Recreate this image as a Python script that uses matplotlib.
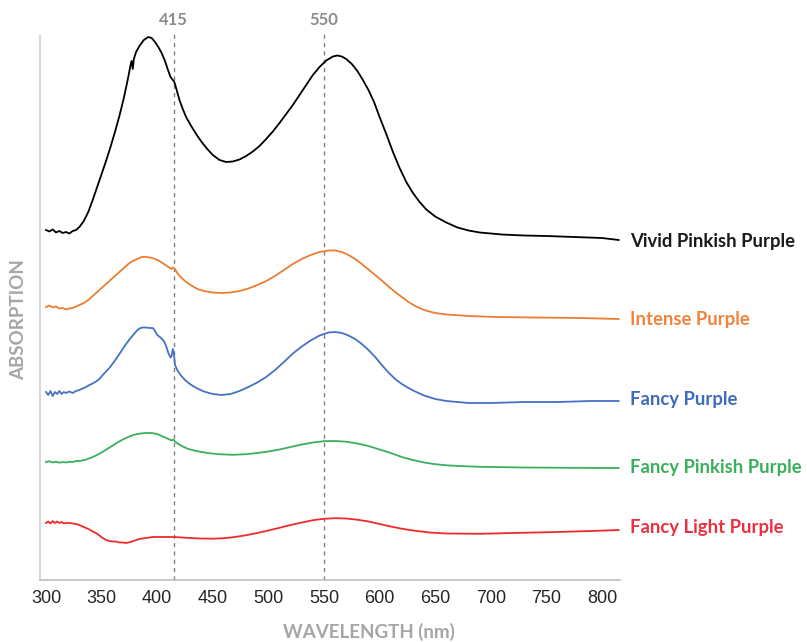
import matplotlib
matplotlib.use("Agg")
import matplotlib.pyplot as plt

# ---------------- data ----------------
wl_vivid = [300, 303, 306, 309, 312, 315, 318, 321, 324, 327, 330, 334, 338, 342, 346, 350, 354, 358,
            362, 366, 370, 374, 376, 377, 378, 379, 381, 384, 388, 392, 395, 398, 401, 404, 407, 410,
            412, 414, 415, 416, 418, 420, 423, 426, 430, 435, 440, 445, 450, 456, 462, 468, 474, 480,
            486, 492, 498, 504, 510, 516, 522, 528, 534, 540, 546, 552, 558, 562, 566, 570, 575, 580,
            585, 590, 595, 600, 606, 612, 618, 624, 630, 636, 642, 650, 660, 670, 680, 690, 710, 730,
            750, 775, 800, 815]
ab_vivid = [350, 348.5, 350.5, 347.5, 349, 347, 348, 346.5, 349, 350, 353, 359, 368, 380, 393, 406, 419, 433,
            448, 464, 482, 503, 515, 519, 511, 521, 528, 534, 540, 543, 542, 538, 533, 527, 519, 509,
            503, 500, 499, 496, 488, 480, 471, 463, 455, 446, 438, 431, 425, 420, 418, 418.5, 420.5, 424,
            428.5, 434, 441, 448.5, 457, 466, 475, 485, 495, 505, 513, 519.5, 523.5, 524.5, 523.5, 521, 516, 509,
            500, 490, 478, 463, 446, 428, 412, 398, 387, 378, 370.5, 363.5, 357.5, 352.5, 349.5, 347.5, 345.5, 344.5,
            344, 343, 342, 340]

wl_intense = [300, 303, 306, 309, 312, 315, 318, 321, 324, 327, 330, 334, 338, 342, 346, 350, 354, 358,
              362, 366, 370, 374, 378, 382, 386, 390, 394, 398, 402, 406, 410, 413, 414, 416, 418, 421,
              425, 430, 436, 442, 450, 458, 466, 474, 482, 490, 498, 506, 514, 522, 530, 538, 546, 554,
              560, 566, 572, 578, 584, 590, 596, 602, 608, 614, 620, 626, 632, 640, 650, 660, 680, 705,
              740, 780, 815]
ab_intense = [273, 274.5, 272.5, 273.5, 271.5, 272, 270.5, 271.5, 272, 273.5, 275, 277, 280, 284, 288, 292, 296, 300,
              304, 308, 312, 316, 319, 321, 323, 323, 322.5, 321, 319, 316, 313, 311, 312.5, 311, 307, 303,
              299, 295, 291, 289, 287.5, 287, 287.5, 289, 291.5, 295, 299, 304, 310, 316, 321, 325, 328, 329.5,
              329.5, 328, 325, 321, 316, 310.5, 305, 299.5, 293.5, 288, 283, 278, 274, 270, 267, 265.5, 264, 263,
              262.5, 262, 261]

wl_fancy = [300, 302, 304, 306, 308, 310, 312, 314, 316, 318, 321, 324, 327, 330, 333, 336, 339, 342,
            345, 348, 351, 354, 357, 360, 363, 366, 369, 372, 375, 378, 381, 384, 387, 390, 393, 396,
            398, 400, 403, 406, 408, 410, 412, 413, 414, 415, 416, 418, 421, 425, 430, 436, 442, 450,
            458, 466, 474, 482, 490, 498, 506, 514, 522, 530, 538, 546, 554, 560, 566, 572, 578, 584,
            590, 596, 602, 608, 614, 620, 626, 632, 640, 650, 660, 680, 700, 730, 760, 790, 815]
ab_fancy = [188, 185, 189, 184, 188, 186, 189, 186, 188, 187, 188.5, 187, 189, 190, 191.5, 193, 195, 196.5,
            198.5, 201, 205, 208.5, 212, 216.5, 221, 226, 231, 236, 240.5, 244.5, 248.5, 251.5, 252.5, 252.5, 252, 252,
            249, 245, 242.5, 239, 234, 227, 222.5, 224, 231, 227, 215, 210, 205, 200, 195.5, 191.5, 188.5, 186,
            185, 186, 189, 193, 197.5, 203, 210, 218, 226.5, 233.5, 239.5, 244.5, 247.5, 248, 247, 244.5, 241, 236,
            230, 223, 215, 207.5, 201, 196, 192, 188.5, 184.5, 181, 179, 177, 177, 178, 178, 179, 179]

wl_pinkish = [300, 303, 306, 309, 312, 315, 318, 321, 324, 327, 330, 335, 340, 345, 350, 355, 360, 365,
              370, 375, 380, 385, 390, 395, 400, 405, 410, 413, 414.5, 416, 419, 423, 428, 435, 445, 455,
              468, 480, 490, 500, 510, 520, 530, 540, 550, 560, 570, 580, 590, 600, 610, 620, 630, 640,
              650, 660, 675, 690, 730, 770, 815]
ab_pinkish = [118, 118.8, 117.5, 118.3, 117.3, 118, 117.5, 118.2, 118, 119, 119, 120, 122, 124.5, 127.5, 131, 134.5, 138,
              141, 143.5, 145.5, 146.5, 147, 147, 146, 143.5, 141, 139.5, 140.5, 138.5, 136, 133.5, 131, 129, 127, 125.8,
              125.2, 125.8, 127, 128.5, 130.5, 133, 135.5, 137.5, 138.8, 139, 138.3, 136.5, 134, 130.5, 127, 123, 120, 117.5,
              115.8, 114.7, 113.8, 113.2, 112.5, 112.2, 112]

wl_light = [300, 302, 304, 306, 308, 310, 312, 314, 316, 318, 321, 324, 327, 330, 333, 336, 339, 342,
            345, 348, 351, 354, 357, 360, 363, 366, 369, 372, 376, 380, 384, 390, 396, 405, 415, 425,
            438, 450, 460, 470, 480, 490, 500, 510, 520, 530, 540, 550, 560, 570, 580, 590, 600, 610,
            620, 630, 645, 660, 690, 720, 760, 790, 815]
ab_light = [57, 58.5, 56.5, 59, 57, 58.5, 57, 58, 56.5, 57, 57, 56.5, 56, 55, 53.5, 52, 50.5, 48.5,
            47, 44.5, 42, 40, 39, 38.5, 38.5, 37.5, 37.5, 37, 38, 39.5, 41, 42, 43, 43, 43, 42.3,
            41.5, 41.3, 41.8, 43, 44.8, 47, 49.5, 52.2, 55, 57.5, 59.8, 61.2, 61.8, 61.5, 60.3, 58.5, 56, 53.5,
            51.3, 49.5, 47.5, 46.5, 46.2, 47, 48, 49, 50]

series_names = ["Vivid Pinkish Purple", "Intense Purple", "Fancy Purple",
                "Fancy Pinkish Purple", "Fancy Light Purple"]
series_wl = [wl_vivid, wl_intense, wl_fancy, wl_pinkish, wl_light]
series_ab = [ab_vivid, ab_intense, ab_fancy, ab_pinkish, ab_light]
line_colors = ["#000000", "#ED7D31", "#4472C4", "#3BAF5B", "#EE2B2B"]
label_colors = ["#1a1a1a", "#F0843F", "#3F6BBF", "#3BB05C", "#E8323F"]
label_y = [338, 260, 180, 112, 52]

marker_wl = [415, 550]
x_ticks = [300, 350, 400, 450, 500, 550, 600, 650, 700, 750, 800]

# ---------------- figure ----------------
fig = plt.figure(figsize=(8.07, 6.42), dpi=100)
ax = fig.add_axes([40 / 807, 62 / 642, 580 / 807, 544 / 642])

for wl, ab, c in zip(series_wl, series_ab, line_colors):
    ax.plot(wl, ab, color=c, lw=1.3, solid_joinstyle="round")

ax.set_xlim(294.6, 816.2)
ax.set_ylim(0, 544)

for m in marker_wl:
    ax.axvline(m, ymin=0, ymax=1.004, color="#808080", lw=1.0,
               linestyle=(0, (3, 3)), clip_on=False, zorder=0)
    ax.text(m, 560, str(m), ha="center", va="center", fontsize=12,
            fontfamily="Lato", fontweight="bold", color="#8C8C8C", clip_on=False)

for name, y, c in zip(series_names, label_y, label_colors):
    ax.text(825, y, name, ha="left", va="center", fontsize=13.3,
            fontfamily="Lato", fontweight="bold", color=c, clip_on=False)

ax.set_xticks(x_ticks)
ax.set_xticklabels([str(t) for t in x_ticks], fontfamily="Liberation Sans",
                   fontsize=13, color="#262626")
ax.tick_params(axis="x", length=0, pad=7)
ax.set_yticks([])

for s in ["top", "right"]:
    ax.spines[s].set_visible(False)
ax.spines["left"].set_color("#D9D9D9")
ax.spines["left"].set_linewidth(1.5)
ax.spines["bottom"].set_color("#BFBFBF")
ax.spines["bottom"].set_linewidth(1.2)

fig.text(369 / 807, 1 - 632 / 642, "WAVELENGTH (nm)", ha="center", va="center",
         fontsize=13.5, fontfamily="Lato", fontweight="bold", color="#A6A6A6")
fig.text(19 / 807, 1 - 320 / 642, "ABSORPTION", ha="center", va="center",
         rotation=90, fontsize=13.5, fontfamily="Lato", fontweight="bold", color="#A6A6A6")

fig.savefig("out.png", dpi=100)
